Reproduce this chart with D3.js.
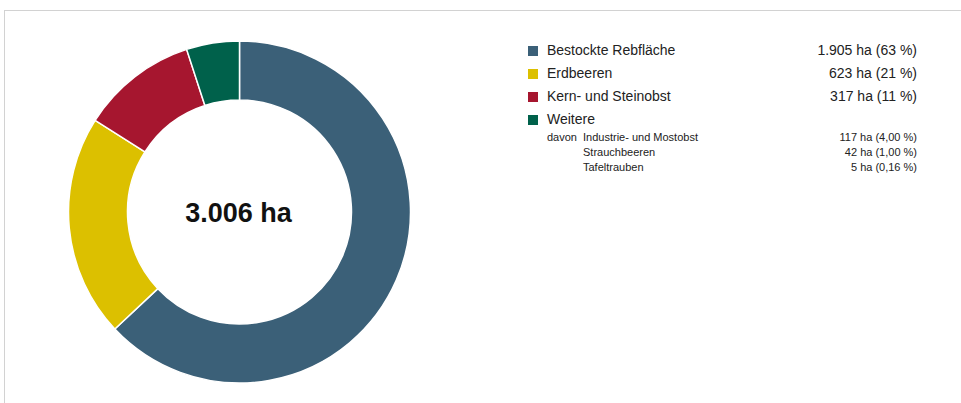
<!DOCTYPE html>
<html>
<head>
<meta charset="utf-8">
<script src="https://cdn.jsdelivr.net/npm/d3@7"></script>
<style>
  html, body { margin: 0; padding: 0; background: #fff; }
  svg { display: block; font-family: "Liberation Sans", Arial, sans-serif; }
</style>
</head>
<body>
<div id="chart"></div>
<script>
// data
var categories = ["Bestockte Rebfläche", "Erdbeeren", "Kern- und Steinobst", "Weitere"]
var hectares = [1905, 623, 317, null]
var percents = [63, 21, 11, 5]
var colors = ["#3b6078", "#dcc000", "#a6162f", "#00614b"]

var subCategories = ["Industrie- und Mostobst", "Strauchbeeren", "Tafeltrauben"]
var subHectares = [117, 42, 5]
var subPercents = [4.00, 1.00, 0.16]

var total = 3006

var width = 961, height = 403
var cx = 239.5, cy = 212
var outerR = 171, innerR = 112

var de = d3.formatLocale({decimal: ",", thousands: ".", grouping: [3], currency: ["", " €"]})
var fmtHa = de.format(",d")
var fmtPct2 = de.format(",.2f")

var svg = d3.select("#chart").append("svg")
    .attr("width", width)
    .attr("height", height)

// frame
svg.append("rect")
    .attr("x", 4.5).attr("y", 10.5)
    .attr("width", width + 10).attr("height", height + 10)
    .attr("fill", "none")
    .attr("stroke", "#d2d2d2")
    .attr("stroke-width", 1)

// donut
var pie = d3.pie().sort(null).value(function(d) { return d })
var arc = d3.arc().innerRadius(innerR).outerRadius(outerR)

var g = svg.append("g").attr("transform", "translate(" + cx + "," + cy + ")")
g.selectAll("path")
    .data(pie(percents))
    .enter().append("path")
    .attr("d", arc)
    .attr("fill", function(d, i) { return colors[i] })
    .attr("stroke", "#fff")
    .attr("stroke-width", 1.5)

g.append("text")
    .attr("x", -1).attr("y", 10)
    .attr("text-anchor", "middle")
    .attr("font-size", 27)
    .attr("font-weight", "bold")
    .attr("fill", "#111")
    .text(fmtHa(total) + " ha")

// legend
var legX = 528, textX = 547, rightX = 917
var rowY = d3.scalePoint().domain(d3.range(categories.length)).range([55, 124])

var rows = svg.append("g").selectAll("g")
    .data(categories)
    .enter().append("g")

rows.append("rect")
    .attr("x", legX)
    .attr("y", function(d, i) { return rowY(i) - 9 })
    .attr("width", 10).attr("height", 10)
    .attr("fill", function(d, i) { return colors[i] })

rows.append("text")
    .attr("x", textX)
    .attr("y", function(d, i) { return rowY(i) })
    .attr("font-size", 14)
    .attr("fill", "#222")
    .text(function(d) { return d })

rows.filter(function(d, i) { return hectares[i] != null })
  .append("text")
    .attr("x", rightX)
    .attr("y", function(d, i) { return rowY(i) })
    .attr("text-anchor", "end")
    .attr("font-size", 14)
    .attr("fill", "#222")
    .text(function(d) {
        var i = categories.indexOf(d)
        return fmtHa(hectares[i]) + " ha (" + percents[i] + " %)"
    })

// "davon" sub rows
var subY = d3.scalePoint().domain(d3.range(subCategories.length)).range([141, 171])

svg.append("text")
    .attr("x", textX).attr("y", subY(0))
    .attr("font-size", 11)
    .attr("fill", "#222")
    .text("davon")

var sub = svg.append("g").selectAll("g")
    .data(subCategories)
    .enter().append("g")

sub.append("text")
    .attr("x", 583)
    .attr("y", function(d, i) { return subY(i) })
    .attr("font-size", 11)
    .attr("fill", "#222")
    .text(function(d) { return d })

sub.append("text")
    .attr("x", rightX)
    .attr("y", function(d, i) { return subY(i) })
    .attr("text-anchor", "end")
    .attr("font-size", 11)
    .attr("fill", "#222")
    .text(function(d, i) { return subHectares[i] + " ha (" + fmtPct2(subPercents[i]) + " %)" })
</script>
</body>
</html>
